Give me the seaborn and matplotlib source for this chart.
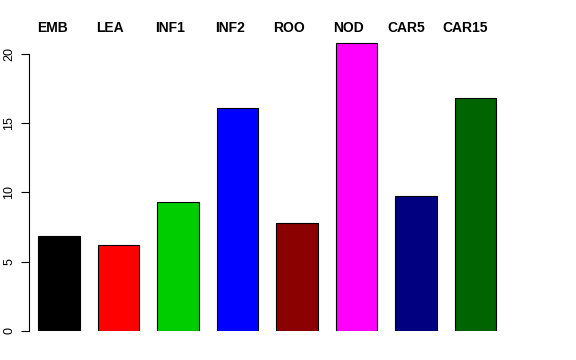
import matplotlib
matplotlib.use("Agg")
import matplotlib.pyplot as plt
import seaborn as sns
import pandas as pd

categories = ["EMB", "LEA", "INF1", "INF2", "ROO", "NOD", "CAR5", "CAR15"]
values = [6.86, 6.22, 9.31, 16.1, 7.82, 20.8, 9.72, 16.8]
colors = ["#000000", "#FF0000", "#00CD00", "#0000FF", "#8B0000", "#FF00FF", "#000080", "#006400"]
yticks = [0, 5, 10, 15, 20]
# left edge of each header label, in bar-index units
label_x = [-0.37, 0.62, 1.61, 2.62, 3.60, 4.60, 5.51, 6.44]

sns.set_style("white")
plt.rcParams["font.family"] = ["Liberation Sans", "DejaVu Sans"]
plt.rcParams["text.color"] = "black"
plt.rcParams["ytick.color"] = "black"

df = pd.DataFrame({"cat": categories, "val": values})

fig = plt.figure(figsize=(5.76, 3.6), dpi=100)
ax = fig.add_axes([29 / 576, 29 / 360, (547 - 29) / 576, (331 - 40.1) / 360])
sns.barplot(data=df, x="cat", y="val", hue="cat", palette=colors, order=categories,
            hue_order=categories, width=0.7, edgecolor="black", linewidth=0.8,
            legend=False, saturation=1, ax=ax)

ax.set_xlim(-0.504, 8.2)
ax.set_ylim(0, 21)
ax.set_xlabel("")
ax.set_ylabel("")
ax.set_xticks([])
for s in ["top", "right", "bottom"]:
    ax.spines[s].set_visible(False)
ax.spines["left"].set_bounds(0, 20)
ax.spines["left"].set_linewidth(0.8)
ax.spines["left"].set_color("black")
ax.set_yticks(yticks)
ax.set_yticklabels([str(t) for t in yticks], rotation=90, va="center", fontsize=9,
                   color="black")
ax.tick_params(axis="y", left=True, length=6, width=0.8, color="black", pad=4)

for x, lab in zip(label_x, categories):
    ax.text(x, 21.9, lab, ha="left", va="center", fontsize=10, fontweight="bold",
            color="black", clip_on=False)

fig.savefig("out.png", dpi=100)
